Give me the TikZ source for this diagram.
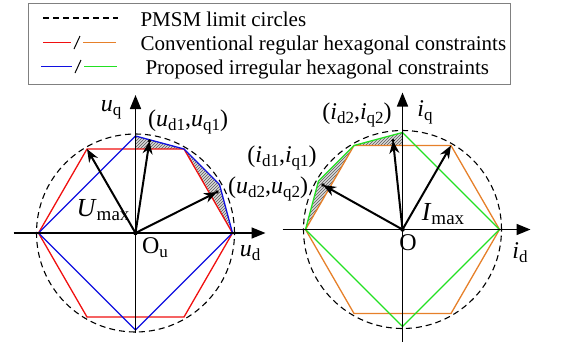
\documentclass[tikz,border=0pt]{standalone}
\usepackage{fontspec}
\setmainfont{Liberation Serif}
\usetikzlibrary{arrows.meta,positioning,calc,patterns}
\definecolor{cred}{HTML}{F01010}
\definecolor{corange}{HTML}{E6802A}
\definecolor{cblue}{HTML}{1010E0}
\definecolor{cgreen}{HTML}{22E022}
\newcommand{\vsub}[2]{\textit{#1}\raisebox{-4pt}{\fontsize{17}{17}\selectfont #2}}

\begin{document}
\begin{tikzpicture}[x=1pt,y=1pt,font=\fontsize{24}{26}\selectfont,>=Stealth]
  \tikzstyle{ax}=[line width=1.6pt,-{Triangle[length=14pt,width=11pt]}]
  \tikzstyle{vec}=[line width=2pt,-{Stealth[length=13pt,width=10pt]}]
  \tikzstyle{lim}=[line width=1.1pt,dash pattern=on 6pt off 4pt]
  \tikzstyle{hex}=[line width=1.3pt,line join=round]
  \tikzstyle{hatch}=[preaction={fill=gray!30},pattern=north east lines,pattern color=gray!70!black]
  \tikzstyle{dot}=[circle,fill,inner sep=1.6pt]
  \tikzstyle{lg}=[anchor=base west,font=\fontsize{21}{24}\selectfont]
  \useasboundingbox (0,0) rectangle (565,-349);

  % legend
  \draw[gray,line width=1pt] (28,-3) rectangle (510,-84);
  \draw[lim,line width=1.5pt] (43,-18) -- (118,-18);
  \node[lg] (t1) at (137,-26.5) {PMSM limit circles};
  \draw[cred,line width=1.5pt] (43,-42.5) -- (71,-42.5);
  \draw[line width=1pt] (74,-49) -- (80,-36);
  \draw[corange,line width=1.5pt] (83,-42.5) -- (116,-42.5);
  \node[lg] (t2) at (137,-50.5) {Conventional regular hexagonal constraints};
  \draw[cblue,line width=1.5pt] (41,-66.5) -- (72,-66.5);
  \draw[line width=1pt] (75,-73) -- (81,-60);
  \draw[cgreen,line width=1.5pt] (84,-66.5) -- (117,-66.5);
  \node[lg] (t3) at (142,-74.5) {Proposed irregular hexagonal constraints};

  % voltage plane
  \begin{scope}[shift={(135.5,-233)}]
    \coordinate (Ou) at (0,0);
    \fill[hatch] (0,84) -- (90:97) -- (60:97) -- cycle;
    \fill[hatch] (60:97) -- (30:97) -- (0:97) -- cycle;
    \draw[lim] (Ou) circle (99);
    \draw[hex,cred] (0:97) -- (60:97) -- (120:97) -- (180:97) -- (240:97) -- (300:97) -- cycle;
    \draw[hex,cblue] (180:97) -- (90:97) -- (60:97) -- (30:97) -- (0:97) -- (270:97) -- cycle;
    \coordinate (ul) at (-122,0);
    \coordinate (ur) at (130,0);
    \coordinate (ub) at (0,-100);
    \coordinate (ut) at (0,138);
    \draw[ax] (ul) -- (ur);
    \draw[ax] (ub) -- (ut);
    \node[dot] (o1) at (Ou) {};
    \node[dot,inner sep=1.3pt] (p1) at (14,92) {};
    \node[dot,inner sep=1.3pt] (p2) at (81.5,41) {};
    \coordinate (um) at (120:97);
    \draw[vec] (o1.center) -- (um);
    \draw[vec] (o1.center) -- (p1.center);
    \draw[vec] (o1.center) -- (p2.center);
  \end{scope}
  \node (uq) at (111,-110) {\vsub{u}{q}};
  \node (lp1) at (188,-122) {(\vsub{u}{d1},\vsub{u}{q1})};
  \node (lp2) at (268,-189) {(\vsub{u}{d2},\vsub{u}{q2})};
  \node[font=\fontsize{26}{28}\selectfont] (Um) at (103,-210) {\textit{U}\raisebox{-4pt}{\fontsize{19}{19}\selectfont max}};
  \node (lo1) at (155,-248) {O\raisebox{-4pt}{\fontsize{17}{17}\selectfont u}};
  \node (ud) at (250,-253) {\vsub{u}{d}};

  % current plane
  \begin{scope}[shift={(402.5,-229.5)}]
    \coordinate (Oi) at (0,0);
    \fill[hatch] (0,84) -- (90:97) -- (120:97) -- cycle;
    \fill[hatch] (120:97) -- (150:97) -- (180:97) -- cycle;
    \draw[lim] (Oi) circle (99);
    \draw[hex,corange] (0:97) -- (60:97) -- (120:97) -- (180:97) -- (240:97) -- (300:97) -- cycle;
    \draw[hex,cgreen] (0:97) -- (90:97) -- (120:97) -- (150:97) -- (180:97) -- (270:97) -- cycle;
    \coordinate (il) at (-120,0);
    \coordinate (ir) at (128,0);
    \coordinate (ib) at (0,-112);
    \coordinate (it) at (0,137);
    \draw[ax] (il) -- (ir);
    \draw[ax] (ib) -- (it);
    \node[dot] (o2) at (Oi) {};
    \node[dot,inner sep=1.3pt] (q1) at (-79.5,44.5) {};
    \node[dot,inner sep=1.3pt] (q2) at (-9.5,89) {};
    \coordinate (im) at (60:97);
    \draw[vec] (o2.center) -- (im);
    \draw[vec] (o2.center) -- (q1.center);
    \draw[vec] (o2.center) -- (q2.center);
  \end{scope}
  \node (lq1) at (282,-158) {(\vsub{i}{d1},\vsub{i}{q1})};
  \node (lq2) at (357,-115) {(\vsub{i}{d2},\vsub{i}{q2})};
  \node (iq) at (425,-112) {\vsub{i}{q}};
  \node[font=\fontsize{26}{28}\selectfont] (Im) at (443,-214) {\textit{I}\raisebox{-4pt}{\fontsize{19}{19}\selectfont max}};
  \node (lo2) at (408,-243) {O};
  \node (id) at (520,-253) {\vsub{i}{d}};
\end{tikzpicture}
\end{document}
